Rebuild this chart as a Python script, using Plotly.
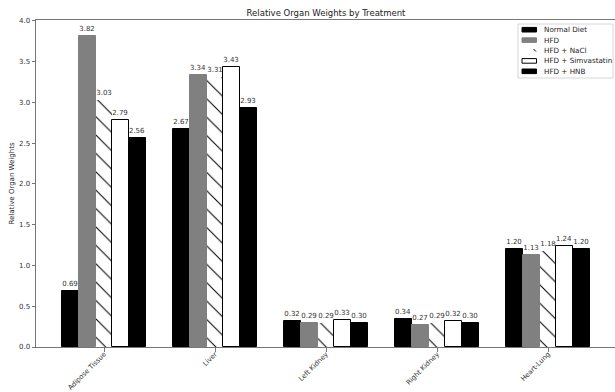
import plotly.graph_objects as go

# Organ categories and mean relative organ weights per treatment group
organs = ["Adipose Tissue", "Liver", "Left Kidney", "Right Kidney", "Heart-Lung"]
groups = ["Normal Diet", "HFD", "HFD + NaCl", "HFD + Simvastatin", "HFD + HNB"]

normal_diet = [0.69, 2.67, 0.32, 0.34, 1.20]
hfd = [3.82, 3.34, 0.29, 0.27, 1.13]
hfd_nacl = [3.03, 3.31, 0.29, 0.29, 1.18]
hfd_simva = [2.79, 3.43, 0.33, 0.32, 1.24]
hfd_hnb = [2.56, 2.93, 0.30, 0.30, 1.20]

series = [normal_diet, hfd, hfd_nacl, hfd_simva, hfd_hnb]

y_ticks = [0.0, 0.5, 1.0, 1.5, 2.0, 2.5, 3.0, 3.5, 4.0]

FONT = "DejaVu Sans"
BAR_W = 0.15
W, H = 615, 392
ML, MR, MT, MB = 36, 0, 20, 45

styles = [
    dict(color="black", line=dict(color="black", width=1)),
    dict(color="#808080", line=dict(color="#808080", width=1)),
    dict(color="white", line=dict(width=0),
         pattern=dict(shape="\\", fgcolor="black", bgcolor="white",
                      size=13, solidity=0.08, fillmode="replace")),
    dict(color="white", line=dict(color="black", width=1)),
    dict(color="black", line=dict(color="black", width=1)),
]

x_idx = list(range(len(organs)))
fig = go.Figure()
for k, (name, vals, st) in enumerate(zip(groups, series, styles)):
    offset = (k - 2) * BAR_W
    fig.add_trace(go.Bar(
        x=[i + offset for i in x_idx],
        y=vals,
        width=BAR_W,
        name=name,
        marker=st,
        text=[f"{v:.2f}" for v in vals],
        textposition="outside",
        textfont=dict(family=FONT, size=7, color="#333"),
        constraintext="none",
        cliponaxis=False,
        showlegend=False,
    ))

# Matplotlib-style legend box in the top-right corner
plot_w = W - ML - MR
plot_h = H - MT - MB


def px_x(p):
    return (p - ML) / plot_w


def px_y(p):
    return (H - MB - p) / plot_h


shapes = [dict(type="rect", xref="paper", yref="paper",
               x0=px_x(518), x1=px_x(613), y0=px_y(78), y1=px_y(24),
               line=dict(color="#d6d6d6", width=1), fillcolor="rgba(255,255,255,0.8)")]
annotations = []
for k, name in enumerate(groups):
    yc = 29.7 + k * 10.4
    if k == 2:
        shapes.append(dict(type="line", xref="paper", yref="paper",
                           x0=px_x(533.5), x1=px_x(536), y0=px_y(yc - 1.5), y1=px_y(yc + 1),
                           line=dict(color="black", width=1)))
    else:
        st = styles[k]
        shapes.append(dict(type="rect", xref="paper", yref="paper",
                           x0=px_x(522), x1=px_x(536.5), y0=px_y(yc + 2.3), y1=px_y(yc - 2.3),
                           fillcolor=st["color"],
                           line=dict(color=st["line"].get("color", "black"), width=1)))
    annotations.append(dict(xref="paper", yref="paper", x=px_x(542), y=px_y(yc),
                            text=name, showarrow=False, xanchor="left", yanchor="middle",
                            font=dict(family=FONT, size=7.2, color="#222")))

fig.update_layout(
    width=W, height=H,
    margin=dict(l=ML, r=MR, t=MT, b=MB),
    plot_bgcolor="white", paper_bgcolor="white",
    bargap=0, barmode="overlay",
    title=dict(text="Relative Organ Weights by Treatment", x=(ML + 616) / 2 / W, xanchor="center",
               y=1 - 13 / H, yanchor="middle",
               font=dict(family=FONT, size=8.5, color="#222")),
    shapes=shapes,
    annotations=annotations,
    xaxis=dict(
        range=[-0.6125, 4.6125 - 0.01],
        tickmode="array", tickvals=x_idx, ticktext=organs, tickangle=-45,
        ticks="outside", ticklen=3.5, tickcolor="#777", tickwidth=1,
        ticklabelstandoff=-4,
        showline=True, linecolor="#777", linewidth=1, mirror=True,
        showgrid=False, zeroline=False, automargin=False,
        tickfont=dict(family=FONT, size=6.8, color="#333"),
    ),
    yaxis=dict(
        range=[0, 4.011],
        tickmode="array", tickvals=y_ticks, ticktext=[f"{t:.1f}" for t in y_ticks],
        ticks="outside", ticklen=3.5, tickcolor="#777", tickwidth=1,
        showline=True, linecolor="#777", linewidth=1,
        showgrid=False, zeroline=False, automargin=False,
        tickfont=dict(family=FONT, size=7, color="#333"),
        title=dict(text="Relative Organ Weights", standoff=3,
                   font=dict(family=FONT, size=7, color="#222")),
    ),
)

fig.write_html("out.html")
